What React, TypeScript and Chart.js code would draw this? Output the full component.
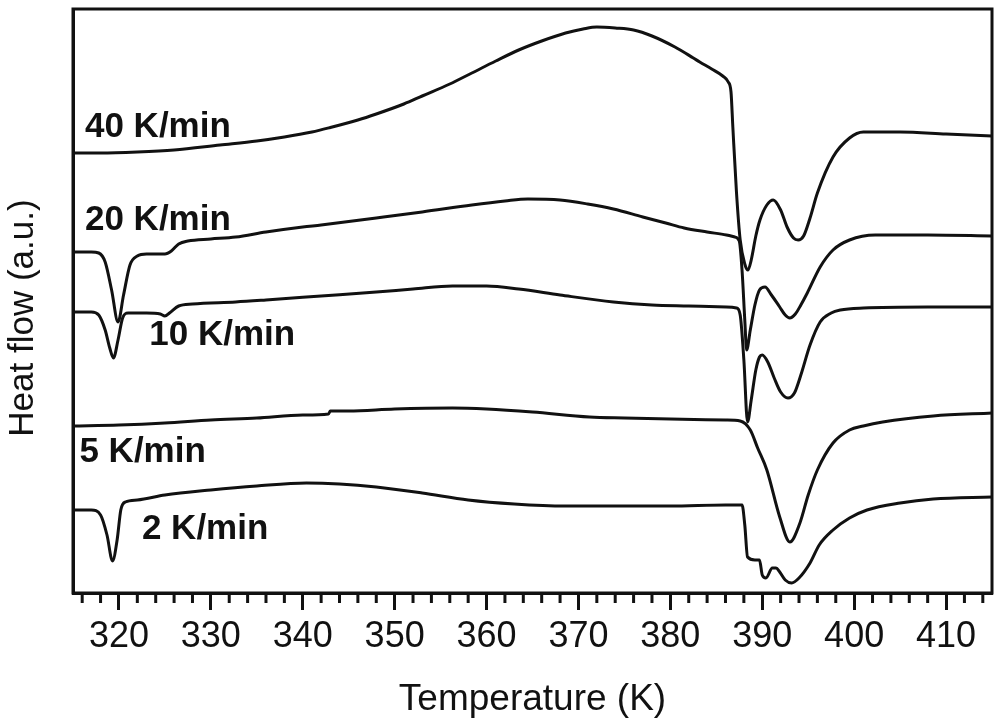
import { useEffect, useRef } from "react"
import { Chart, registerables, type ChartConfiguration, type Plugin } from "chart.js"

Chart.register(...registerables)

// heating rates, top to bottom
const rates = ["40 K/min", "20 K/min", "10 K/min", "5 K/min", "2 K/min"]

// labelled ticks on the temperature axis, minor ticks every 2 K between them
const xTicks = [320, 330, 340, 350, 360, 370, 380, 390, 400, 410]
const minorStep = 2

// temperature (K) / heat flow (a.u., offset traces)
const temp40 = [315, 318, 322, 326, 331, 335, 338, 341, 343, 346, 348, 351, 353, 356, 358.4, 361, 363.5, 366, 368.6, 370.5, 372, 374, 376, 378, 380.5, 382.5, 383.2, 384.5, 385.7, 386.3, 386.6, 386.8, 387.2, 387.6, 388.1, 388.45, 388.8, 389.3, 389.75, 390.5, 391.2, 392.0, 392.7, 393.4, 393.9, 394.5, 395.2, 396.0, 397.7, 399.5, 401.0, 405.0, 410, 415]
const flow40 = [440, 440, 441, 443, 448, 452, 456, 461, 465.5, 473, 479, 489, 497, 509, 520, 532, 543, 552, 560, 564, 566, 565, 563, 557, 546, 535, 531, 524, 517, 511, 501, 466, 400, 353, 329, 323, 333, 357, 373, 388, 393, 383, 366, 355, 353, 357, 375, 400, 436, 455, 461, 461, 459, 457]

const temp20 = [315, 317, 317.8, 318.5, 319.2, 319.9, 320.5, 321.2, 322, 323, 325, 325.7, 326.5, 327.5, 330, 332.7, 336, 340, 342, 348, 353, 358.4, 362, 364.5, 368, 371, 373.8, 377, 379.5, 381.5, 384, 386.1, 387.0, 387.5, 387.8, 388.1, 388.3, 388.7, 389.2, 389.7, 390.3, 391.0, 391.9, 392.5, 393.0, 393.6, 394.2, 394.9, 396.3, 397.7, 399.5, 402.3, 408, 415]
const flow20 = [341, 341, 340, 331, 303, 271, 298, 328, 337, 339, 339, 342, 349, 352, 354, 356, 361, 366, 368, 375, 381, 388, 392, 394, 393, 389, 384, 376, 370, 365, 361, 358, 356, 352, 323, 273, 243, 263, 288, 303, 306, 298, 286, 278, 275, 279, 288, 300, 326, 343, 353, 358, 358, 357]

const temp10 = [315, 317, 317.8, 318.5, 319.0, 319.4, 319.9, 320.4, 321, 323, 324.5, 325, 325.5, 326.5, 328, 332.7, 336, 342, 348, 352, 356.3, 360, 363.5, 368, 373.8, 378, 382, 386.1, 387.2, 387.6, 388.0, 388.4, 388.8, 389.3, 389.7, 390.0, 390.6, 391.3, 392.0, 392.8, 393.5, 394.2, 395.2, 396.3, 397.5, 398.5, 401, 408, 415]
const flow10 = [281, 281, 278, 263, 245, 235, 253, 275, 280, 280, 279, 277, 280, 287, 289, 291, 293, 297, 301, 304, 307, 307, 304, 298, 291, 288, 287, 286, 285, 278, 233, 171, 193, 223, 236, 238, 231, 215, 201, 195, 200, 218, 248, 271, 280, 283, 285, 286, 286]

const temp5 = [315, 320, 325, 330, 335, 340, 342.8, 343.0, 345, 350, 356.3, 360, 365, 371.2, 375, 380, 386, 387.6, 388.7, 389.5, 390.5, 391.9, 393.0, 394.1, 395, 396, 397.7, 399.5, 401, 403.1, 408.6, 415]
const flow5 = [167, 168, 170, 173, 175, 178, 179, 182, 182, 184, 185, 184, 181, 176, 175, 174, 173, 172, 163, 145, 123, 76, 51, 70, 98, 123, 150, 163, 167, 171, 177, 180]

const temp2 = [315, 317, 318.0, 318.7, 319.3, 319.8, 320.2, 320.7, 322, 325, 330, 335, 340.4, 344, 348, 353, 358, 363, 368.6, 375, 380, 386, 387.8, 388.1, 388.4, 389.2, 389.7, 390.0, 390.4, 391.1, 391.5, 391.9, 392.5, 393.2, 394.0, 395.2, 396.2, 397.7, 399.5, 401.4, 405, 408.6, 415]
const flow2 = [83, 83, 78, 58, 32, 53, 83, 91, 93, 98, 103, 107, 110, 109, 106, 100, 93, 89, 87, 87, 87, 88, 88, 68, 36, 33, 33, 18, 15, 25, 25, 21, 13, 10, 15, 30, 48, 63, 75, 83, 90, 94, 96]

const series = [
  { temps: temp40, flows: flow40 },
  { temps: temp20, flows: flow20 },
  { temps: temp10, flows: flow10 },
  { temps: temp5, flows: flow5 },
  { temps: temp2, flows: flow2 },
]

// where each rate label sits, in data units (left edge, baseline)
const labelSpots = [
  [316.3, 456],
  [316.3, 363],
  [323.3, 248],
  [315.7, 131],
  [322.5, 54],
]

const ink = "#111111"
const fontFamily = "'Liberation Sans', Arial, sans-serif"

// frame, minor ticks, y title and the rate labels
const decorations: Plugin = {
  id: "decorations",
  afterDraw: (chart) => {
    const { ctx, chartArea, scales } = chart
    const x = scales.x
    const y = scales.y
    ctx.save()
    ctx.strokeStyle = ink
    ctx.lineWidth = 3
    ctx.strokeRect(chartArea.left, chartArea.top, chartArea.right - chartArea.left, chartArea.bottom - chartArea.top)

    ctx.beginPath()
    for (let t = x.min + 1; t < x.max; t += minorStep) {
      if (xTicks.includes(t)) continue
      const px = x.getPixelForValue(t)
      ctx.moveTo(px, chartArea.bottom)
      ctx.lineTo(px, chartArea.bottom + 10)
    }
    ctx.stroke()

    ctx.fillStyle = ink

    // y title, a little below the middle like the original
    ctx.save()
    ctx.translate(33, (chartArea.top + chartArea.bottom) / 2 + 17)
    ctx.rotate(-Math.PI / 2)
    ctx.font = `35px ${fontFamily}`
    ctx.textAlign = "center"
    ctx.textBaseline = "alphabetic"
    ctx.fillText("Heat flow (a.u.)", 0, 0)
    ctx.restore()

    ctx.font = `bold 35px ${fontFamily}`
    ctx.textAlign = "left"
    ctx.textBaseline = "alphabetic"
    rates.forEach((r, i) => {
      const [lt, lv] = labelSpots[i]
      ctx.fillText(r, x.getPixelForValue(lt), y.getPixelForValue(lv))
    })
    ctx.restore()
  },
}

export default function App() {
  const canvasRef = useRef<HTMLCanvasElement>(null)
  const chartRef = useRef<Chart | null>(null)

  useEffect(() => {
    if (!canvasRef.current) return
    if (chartRef.current) chartRef.current.destroy()

    const config: ChartConfiguration<"line"> = {
      type: "line",
      data: {
        datasets: series.map((s, i) => ({
          label: rates[i],
          data: s.temps.map((t, j) => ({ x: t, y: s.flows[j] })),
          borderColor: ink,
          borderWidth: 3,
          pointRadius: 0,
          fill: false,
          cubicInterpolationMode: "monotone" as const,
        })),
      },
      options: {
        animation: false,
        responsive: true,
        maintainAspectRatio: false,
        layout: { padding: { top: 9, right: 8, left: 0, bottom: 0 } },
        plugins: {
          legend: { display: false },
          tooltip: { enabled: false },
        },
        scales: {
          x: {
            type: "linear",
            min: 315,
            max: 415,
            ticks: {
              color: ink,
              padding: 5,
              maxRotation: 0,
              autoSkip: false,
              font: { family: fontFamily, size: 36 },
            },
            afterBuildTicks: (scale) => {
              scale.ticks = xTicks.map((v) => ({ value: v }))
            },
            grid: {
              drawOnChartArea: false,
              tickLength: 17,
              tickWidth: 3,
              tickColor: ink,
            },
            border: { display: true, width: 3, color: ink },
            title: {
              display: true,
              text: "Temperature (K)",
              color: ink,
              padding: { top: 0, bottom: 5 },
              font: { family: fontFamily, size: 37 },
            },
            afterFit: (scale) => {
              scale.height = 134
            },
          },
          y: {
            min: 0,
            max: 584,
            ticks: { display: false },
            grid: { display: false },
            border: { display: true, width: 3, color: ink },
            afterFit: (scale) => {
              scale.width = 73
            },
          },
        },
      },
      plugins: [decorations],
    }

    chartRef.current = new Chart(canvasRef.current, config)

    return () => {
      if (chartRef.current) {
        chartRef.current.destroy()
        chartRef.current = null
      }
    }
  }, [])

  return (
    <div style={{ position: "fixed", left: 0, top: 0, width: 1000, height: 727, background: "#ffffff" }}>
      <canvas ref={canvasRef} />
    </div>
  )
}
